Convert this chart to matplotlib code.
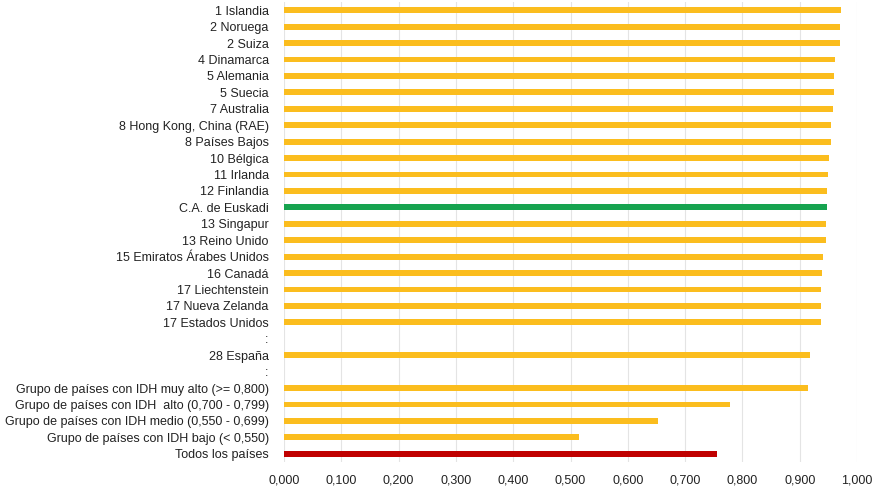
import numpy as np
import matplotlib
matplotlib.use('Agg')
import matplotlib.pyplot as plt
from matplotlib.ticker import FuncFormatter

# Data (top to bottom); None = separator row without a bar
labels = ['1 Islandia', '2 Noruega', '2 Suiza', '4 Dinamarca', '5 Alemania', '5 Suecia',
          '7 Australia', '8 Hong Kong, China (RAE)', '8 Países Bajos', '10 Bélgica',
          '11 Irlanda', '12 Finlandia', 'C.A. de Euskadi', '13 Singapur', '13 Reino Unido',
          '15 Emiratos Árabes Unidos', '16 Canadá', '17 Liechtenstein', '17 Nueva Zelanda',
          '17 Estados Unidos', ':', '28 España', ':',
          'Grupo de países con IDH muy alto (>= 0,800)',
          'Grupo de países con IDH  alto (0,700 - 0,799)',
          'Grupo de países con IDH medio (0,550 - 0,699)',
          'Grupo de países con IDH bajo (< 0,550)',
          'Todos los países']
values = [0.972, 0.970, 0.970, 0.962, 0.959, 0.959, 0.958, 0.955, 0.955, 0.951,
          0.949, 0.948, 0.947, 0.946, 0.946, 0.940, 0.939, 0.938, 0.938, 0.938,
          None, 0.918, None, 0.914, 0.779, 0.653, 0.515, 0.756]

yellow = '#FBBD1E'
green = '#16A34F'
red = '#C00000'
colors = []
for lab in labels:
    if lab == 'C.A. de Euskadi':
        colors.append(green)
    elif lab == 'Todos los países':
        colors.append(red)
    else:
        colors.append(yellow)

plt.rcParams['font.family'] = ['Liberation Sans', 'DejaVu Sans']

fig = plt.figure(figsize=(8.8, 4.95), dpi=100)
ax = fig.add_axes([284 / 880, 1 - 462 / 495, (857 - 284) / 880, 460 / 495])

y = np.arange(len(labels))
vals = [v if v is not None else 0 for v in values]
ax.barh(y, vals, height=0.36, color=colors, zorder=3)

ax.set_yticks(y)
ax.set_yticklabels(labels, fontsize=9, color='#222222')
ax.set_ylim(len(labels) - 0.5, -0.5)
ax.set_xlim(0, 1.0)
ax.set_xticks(np.arange(0, 1.01, 0.1))
ax.xaxis.set_major_formatter(FuncFormatter(lambda v, p: f'{v:.3f}'.replace('.', ',')))
ax.tick_params(axis='x', labelsize=9, colors='#222222', length=0, pad=9)
ax.tick_params(axis='y', length=0, pad=11)
ax.grid(axis='x', color='#E4E4E4', linewidth=0.8, zorder=0)
for s in ax.spines.values():
    s.set_visible(False)

fig.savefig('out.png', dpi=100)
